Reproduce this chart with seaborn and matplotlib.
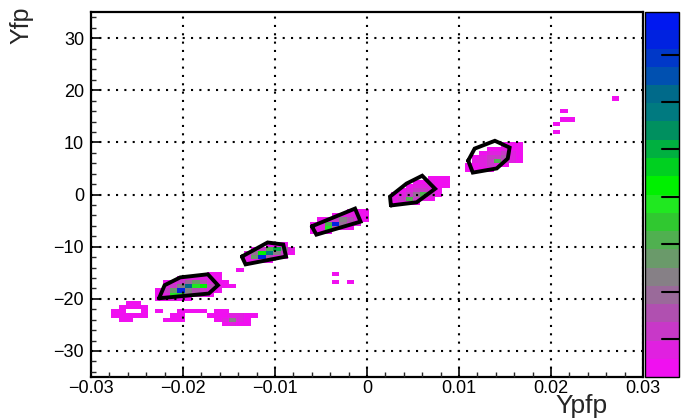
import matplotlib
matplotlib.use('Agg')
import matplotlib.pyplot as plt
import numpy as np
import pandas as pd
import seaborn as sns
from matplotlib.colors import ListedColormap
from matplotlib.ticker import MultipleLocator

# z palette, bottom -> top of the colour scale
palette = ['#f010f0', '#e020e0', '#c838c8', '#b050b0', '#9a6a9a',
           '#868086', '#6a9a6a', '#50b050', '#30c830', '#20e820',
           '#00f000', '#00d020', '#00b040', '#00905f', '#007a80',
           '#006a8a', '#0050b0', '#0038c8', '#0022e0', '#0018f0']
z_min, z_max = 1, 39.5
z_ticks = [5, 10, 15, 20, 25, 30, 35]

bin_dx = 0.0008
bin_dy = 0.8

# histogram rows: (Yfp, first Ypfp bin, counts along Ypfp)
blob_cut1 = [
    (-14.4, -0.0140, [1]),
    (-15.2, -0.0172, [1, 1]),
    (-16.0, -0.0204, [2, 3, 4, 4, 3, 2]),
    (-16.8, -0.0220, [2, 4, 6, 10, 14, 8, 4, 2, 1]),
    (-17.6, -0.0220, [3, 6, 12, 30, 20, 22, 8, 4, 2, 1]),
    (-18.4, -0.0228, [2, 5, 14, 36, 12, 8, 6, 3, 2]),
    (-19.2, -0.0228, [2, 4, 20, 18, 10, 6, 3, 2]),
    (-20.0, -0.0228, [1, 2, 3, 2, 1]),
]
blob_ring = [
    (-20.8, -0.0260, [1, 1]),
    (-21.6, -0.0268, [2, 1, 1, 2]),
    (-22.4, -0.0276, [1, 2, 0, 0, 2, 0, 1]),
    (-23.2, -0.0276, [1, 2, 1, 1, 1]),
    (-24.0, -0.0268, [1, 1]),
]
blob_tail = [
    (-22.4, -0.0204, [1, 2, 1, 1, 0, 1, 1]),
    (-23.2, -0.0212, [1, 1, 0, 0, 0, 1, 2, 2, 3, 4, 2, 1]),
    (-24.0, -0.0220, [1, 1, 1, 0, 0, 0, 0, 2, 3, 12, 3, 2]),
    (-24.8, -0.0156, [2, 3, 2, 2]),
]
blob_cut2 = [
    (-9.6, -0.0104, [2, 2, 1]),
    (-10.4, -0.0124, [2, 6, 16, 26, 10, 3]),
    (-11.2, -0.0132, [3, 10, 22, 28, 12, 6, 2]),
    (-12.0, -0.0132, [4, 14, 36, 8, 4, 2]),
    (-12.8, -0.0132, [2, 3, 2, 1]),
]
blob_cut3 = [
    (-3.2, -0.0020, [1, 2, 1]),
    (-4.0, -0.0036, [2, 3, 4, 3, 2]),
    (-4.8, -0.0052, [2, 4, 6, 12, 8, 4, 2]),
    (-5.6, -0.0060, [2, 4, 16, 36, 10, 6, 3]),
    (-6.4, -0.0060, [3, 4, 20, 8, 4, 2]),
    (-7.2, -0.0060, [1, 2, 1]),
]
blob_cut4 = [
    (3.2, 0.0068, [1, 2, 1]),
    (2.4, 0.0052, [1, 2, 3, 2, 2]),
    (1.6, 0.0044, [2, 3, 4, 3, 2, 1]),
    (0.8, 0.0036, [2, 3, 5, 6, 4, 2]),
    (0.0, 0.0028, [2, 4, 5, 10, 16, 5, 2]),
    (-0.8, 0.0028, [3, 6, 16, 6, 4, 2]),
    (-1.6, 0.0028, [2, 3, 2, 1]),
]
blob_cut5 = [
    (9.6, 0.0148, [1, 2, 1]),
    (8.8, 0.0132, [1, 2, 3, 2, 1]),
    (8.0, 0.0124, [2, 3, 4, 5, 3, 2]),
    (7.2, 0.0116, [2, 3, 5, 6, 8, 4, 2]),
    (6.4, 0.0116, [3, 4, 6, 16, 6, 3, 2]),
    (5.6, 0.0108, [1, 2, 4, 6, 4, 2]),
    (4.8, 0.0108, [1, 2, 2, 1]),
]
strays = [
    (-15.2, -0.0036, [1]),
    (-16.8, -0.0036, [1, 0, 1]),
    (12.0, 0.0204, [1]),
    (13.6, 0.0204, [1]),
    (14.4, 0.0212, [1, 1]),
    (16.0, 0.0212, [1]),
    (18.4, 0.0268, [1]),
]

# graphical cuts (Ypfp, Yfp vertices)
cut1_x = [-0.0226, -0.0220, -0.0203, -0.0173, -0.0162, -0.0172, -0.0226]
cut1_y = [-19.9, -17.4, -15.9, -15.3, -17.4, -19.0, -19.9]
cut2_x = [-0.0136, -0.0132, -0.0088, -0.0091, -0.0108, -0.0136]
cut2_y = [-11.9, -13.4, -11.9, -9.6, -9.2, -11.9]
cut3_x = [-0.0060, -0.0055, -0.0007, -0.0013, -0.0060]
cut3_y = [-6.1, -7.7, -5.2, -2.7, -6.1]
cut4_x = [0.0026, 0.0025, 0.0043, 0.0060, 0.0074, 0.0054, 0.0026]
cut4_y = [-2.1, -0.4, 2.1, 3.6, 1.1, -1.5, -2.1]
cut5_x = [0.0110, 0.0117, 0.0139, 0.0155, 0.0153, 0.0141, 0.0115, 0.0110]
cut5_y = [6.5, 8.8, 10.3, 9.0, 6.9, 5.0, 4.2, 6.5]

x_ticks = [-0.03, -0.02, -0.01, 0, 0.01, 0.02, 0.03]
x_ticklabels = ['\u22120.03', '\u22120.02', '\u22120.01', '0', '0.01', '0.02', '0.03']
y_ticks = [-30, -20, -10, 0, 10, 20, 30]
y_ticklabels = ['\u221230', '\u221220', '\u221210', '0', '10', '20', '30']


def expand(rows):
    xs, ys, ws = [], [], []
    for y, x0, counts in rows:
        for i, c in enumerate(counts):
            if c:
                xs.append(x0 + i * bin_dx)
                ys.append(y)
                ws.append(c)
    return xs, ys, ws


if __name__ == '__main__':
    sns.set_style('white', {'axes.edgecolor': 'black'})
    plt.rcParams['font.family'] = ['Liberation Sans', 'DejaVu Sans']

    cells = {'Ypfp': [], 'Yfp': [], 'n': []}
    for rows in [blob_cut1, blob_ring, blob_tail, blob_cut2, blob_cut3,
                 blob_cut4, blob_cut5, strays]:
        xs, ys, ws = expand(rows)
        cells['Ypfp'] += xs
        cells['Yfp'] += ys
        cells['n'] += ws
    df = pd.DataFrame(cells)

    x_edges = np.arange(-0.0318, 0.0320, bin_dx)
    y_edges = np.arange(-40.4, 40.5, bin_dy)

    fig = plt.figure(figsize=(6.82, 4.2), dpi=100)
    ax = fig.add_axes([91 / 682, 1 - 377 / 420, 552 / 682, 365 / 420])
    cax = fig.add_axes([645 / 682, 1 - 377 / 420, 34 / 682, 365 / 420])

    sns.histplot(data=df, x='Ypfp', y='Yfp', weights='n',
                 bins=[x_edges, y_edges], cmap=ListedColormap(palette),
                 vmin=z_min, vmax=z_max, cbar=True, cbar_ax=cax, ax=ax)

    for cx, cy in [(cut1_x, cut1_y), (cut2_x, cut2_y), (cut3_x, cut3_y),
                   (cut4_x, cut4_y), (cut5_x, cut5_y)]:
        ax.plot(cx, cy, color='black', lw=2.8, solid_joinstyle='miter')

    ax.set_axisbelow(False)
    ax.set_xlim(-0.03, 0.03)
    ax.set_ylim(-35, 35)
    ax.set_xticks(x_ticks)
    ax.set_xticklabels(x_ticklabels)
    ax.set_yticks(y_ticks)
    ax.set_yticklabels(y_ticklabels)
    ax.xaxis.set_minor_locator(MultipleLocator(0.002))
    ax.yaxis.set_minor_locator(MultipleLocator(2))
    ax.tick_params(which='both', bottom=True, left=True, top=False, right=False)
    ax.tick_params(which='major', direction='in', length=7, width=1.2,
                   labelsize=13, colors='black')
    ax.tick_params(which='minor', direction='in', length=3.5, width=1.0)
    ax.tick_params(axis='x', pad=2)
    ax.tick_params(axis='y', pad=5)
    ax.grid(True, which='major', color='black', lw=1.5, ls=(0, (1, 3)))
    for s in ax.spines.values():
        s.set_linewidth(1.6)
        s.set_color('black')

    ax.set_xlabel('Ypfp', fontsize=19, loc='right', va='bottom')
    ax.xaxis.set_label_coords(0.935, -0.113)
    ax.set_ylabel('Yfp', fontsize=18, loc='top')
    ax.yaxis.set_label_coords(-0.104, 1.016)

    # z axis of the palette: tick marks only, labels fall outside the canvas
    cax.tick_params(axis='y', which='both', left=False, right=False,
                    labelleft=False, labelright=False)
    for z in z_ticks:
        cax.axhline(z, xmin=0.5, xmax=1.0, color='black', lw=1.5, zorder=5)
    if 'outline' in cax.spines:
        cax.spines['outline'].set_linewidth(1.0)
        cax.spines['outline'].set_edgecolor('black')

    fig.savefig('out.png', dpi=100)
    plt.close('all')
